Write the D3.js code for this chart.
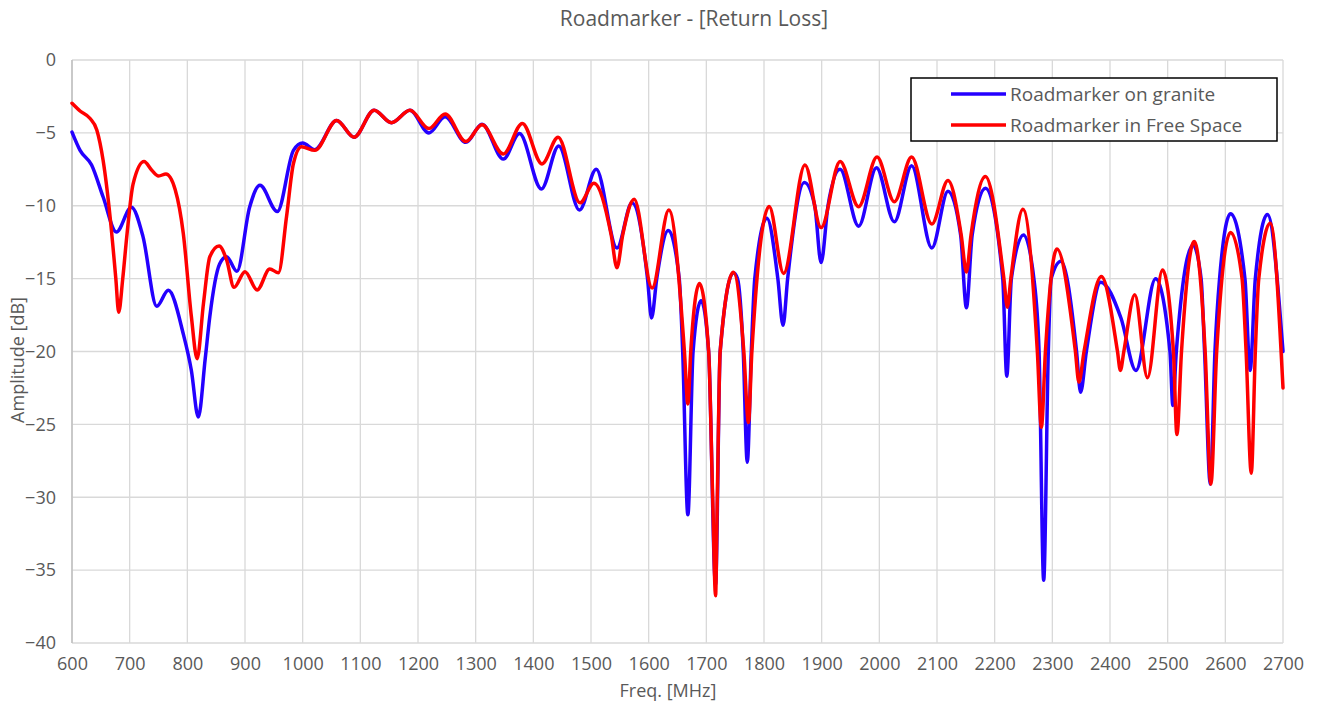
<!DOCTYPE html>
<html>
<head>
<meta charset="utf-8">
<script src="https://cdn.jsdelivr.net/npm/d3@7"></script>
<style>
body { margin: 0; background: #fff; }
text { font-family: "Open Sans", sans-serif; fill: #595959; }
</style>
</head>
<body>
<svg id="chart" width="1318" height="704"></svg>
<script>
// Axis ticks
var xTicks = [600, 700, 800, 900, 1000, 1100, 1200, 1300, 1400, 1500, 1600, 1700,
              1800, 1900, 2000, 2100, 2200, 2300, 2400, 2500, 2600, 2700];
var yTicks = [0, -5, -10, -15, -20, -25, -30, -35, -40];

// Roadmarker on granite
var graniteFreq = [600, 614, 634, 654, 677, 703, 723, 747, 767, 793, 807, 819, 831, 839, 856, 868, 886,
                   908, 926, 956, 984, 1000, 1021, 1059, 1089, 1124, 1154, 1186, 1219, 1247, 1283, 1311,
                   1348, 1376, 1414, 1444, 1480, 1509, 1545, 1571, 1598, 1605, 1614, 1634, 1653, 1659,
                   1668, 1677, 1691, 1704, 1716, 1724, 1747, 1754, 1764, 1771, 1778, 1784, 1805, 1824,
                   1833, 1841, 1870, 1888, 1899, 1911, 1932, 1964, 1995, 2026, 2056, 2091, 2119, 2141,
                   2151, 2161, 2184, 2214, 2221, 2229, 2250, 2268, 2277, 2285, 2293, 2298, 2315, 2342,
                   2349, 2359, 2384, 2419, 2445, 2479, 2504, 2509, 2515, 2544, 2558, 2564, 2574, 2582,
                   2590, 2609, 2634, 2643, 2652, 2673, 2700];
var graniteDb = [-4.95, -6.2, -7.2, -9.4, -11.8, -10.1, -12.1, -16.9, -15.8, -18.8, -21.3, -24.5, -20.5,
                 -17.6, -14.0, -13.5, -14.5, -10.1, -8.6, -10.4, -6.2, -5.7, -6.15, -4.15, -5.3, -3.45,
                 -4.3, -3.45, -5.0, -3.9, -5.65, -4.4, -6.8, -5.05, -8.85, -5.9, -10.3, -7.5, -12.9,
                 -9.8, -15, -17.7, -15, -11.7, -15, -20, -31.2, -20, -16.5, -20, -36, -20, -14.6, -15,
                 -20, -27.6, -20, -15, -10.85, -15, -18.2, -15, -8.4, -10, -13.9, -10, -7.5, -11.4,
                 -7.4, -11.1, -7.25, -12.9, -9.0, -12, -17.0, -12, -8.8, -15, -21.7, -15, -12.0, -15,
                 -20, -35.7, -20, -15, -13.8, -20, -22.8, -20, -15.25, -17.7, -21.3, -15.0, -20, -23.7,
                 -20, -12.7, -15, -20, -29.1, -20, -15, -10.55, -15, -21.3, -15, -10.6, -20];

// Roadmarker in Free Space
var freeFreq = [600, 614, 631, 643, 654, 666, 676, 681, 688, 695, 706, 725, 738, 750, 763, 779, 793, 807,
                817, 828, 839, 855, 868, 881, 900, 921, 943, 958, 972, 984, 998, 1021, 1059, 1089, 1124,
                1154, 1186, 1219, 1247, 1283, 1311, 1348, 1381, 1415, 1443, 1481, 1505, 1535, 1545,
                1555, 1575, 1606, 1635, 1662, 1668, 1673, 1688, 1704, 1711, 1716, 1719, 1724, 1747,
                1765, 1773, 1779, 1809, 1834, 1871, 1899, 1932, 1964, 1996, 2026, 2056, 2091, 2119,
                2142, 2151, 2159, 2184, 2216, 2222, 2228, 2249, 2274, 2281, 2288, 2308, 2340, 2346,
                2355, 2385, 2413, 2418, 2424, 2443, 2465, 2491, 2510, 2516, 2524, 2546, 2565, 2575,
                2585, 2609, 2629, 2636, 2645, 2652, 2658, 2678, 2700];
var freeDb = [-2.97, -3.5, -4.0, -4.8, -6.9, -10.75, -15, -17.3, -15, -12.1, -8.5, -6.97, -7.55, -7.96,
              -7.82, -8.9, -11.9, -17.6, -20.5, -16.7, -13.5, -12.76, -13.7, -15.6, -14.52, -15.78,
              -14.34, -14.6, -10.75, -7.1, -5.95, -6.2, -4.15, -5.3, -3.45, -4.3, -3.45, -4.7, -3.7,
              -5.6, -4.45, -6.45, -4.35, -7.13, -5.3, -9.8, -8.45, -12, -14.25, -12, -9.55, -15.65,
              -10.3, -20, -23.6, -20, -15.33, -20, -30, -36.76, -30, -20, -14.57, -20, -24.87, -20,
              -10.05, -14.64, -7.2, -11.5, -6.96, -10.06, -6.66, -9.72, -6.66, -11.26, -8.27, -12,
              -14.55, -12, -7.99, -15, -16.96, -15, -10.24, -20, -25.2, -20, -12.97, -20, -22.1, -20,
              -14.85, -20, -21.3, -20, -16.1, -21.8, -14.4, -20, -25.7, -20, -12.45, -20, -29.1, -20,
              -11.83, -15, -20, -28.35, -20, -15, -11.2, -22.5];

var legendNames = ["Roadmarker on granite", "Roadmarker in Free Space"];
var lineColors = ["#2400ff", "#ff0000"];

var width = 1318, height = 704;
var margin = {top: 60, right: 35, bottom: 61, left: 72};
var innerW = width - margin.left - margin.right;
var innerH = height - margin.top - margin.bottom;

var svg = d3.select("#chart");
var g = svg.append("g").attr("transform", "translate(" + margin.left + "," + margin.top + ")");

var x = d3.scaleLinear().domain([600, 2700]).range([0, innerW]);
var y = d3.scaleLinear().domain([-40, 0]).range([innerH, 0]);

// Gridlines
g.append("g").selectAll("line").data(yTicks).join("line")
    .attr("x1", 0).attr("x2", innerW)
    .attr("y1", d => y(d)).attr("y2", d => y(d))
    .attr("stroke", "#d9d9d9").attr("stroke-width", 1.3);
g.append("g").selectAll("line").data(xTicks).join("line")
    .attr("x1", d => x(d)).attr("x2", d => x(d))
    .attr("y1", 0).attr("y2", innerH)
    .attr("stroke", "#d9d9d9").attr("stroke-width", 1.3);
// left axis line
g.append("line").attr("x1", 0).attr("x2", 0).attr("y1", 0).attr("y2", innerH)
    .attr("stroke", "#bfbfbf").attr("stroke-width", 1.5);

// Axes (labels only)
var xAxis = g.append("g").attr("transform", "translate(0," + innerH + ")")
    .call(d3.axisBottom(x).tickValues(xTicks).tickSize(0).tickPadding(14).tickFormat(d3.format("d")));
var yAxis = g.append("g")
    .call(d3.axisLeft(y).tickValues(yTicks).tickSize(0).tickPadding(16).tickFormat(d3.format("d")));
[xAxis, yAxis].forEach(a => {
    a.select(".domain").remove();
    a.selectAll("text").style("font-size", "18px").style("font-family", "'Open Sans', sans-serif").attr("fill", "#595959");
});

// Lines
var line = d3.line().x(d => x(d[0])).y(d => y(d[1])).curve(d3.curveMonotoneX);
var series = [d3.zip(graniteFreq, graniteDb), d3.zip(freeFreq, freeDb)];
g.append("g").selectAll("path").data(series).join("path")
    .attr("d", line)
    .attr("fill", "none")
    .attr("stroke", (d, i) => lineColors[i])
    .attr("stroke-width", 3.5)
    .attr("stroke-linejoin", "round")
    .attr("stroke-linecap", "round");

// Title and axis titles
svg.append("text").attr("x", 694).attr("y", 26).attr("text-anchor", "middle")
    .style("font-size", "21px").text("Roadmarker - [Return Loss]");
svg.append("text").attr("x", 668).attr("y", 697).attr("text-anchor", "middle")
    .style("font-size", "18px").text("Freq. [MHz]");
svg.append("text").attr("transform", "translate(24,360) rotate(-90)").attr("text-anchor", "middle")
    .style("font-size", "18px").text("Amplitude [dB]");

// Legend
var legend = svg.append("g").attr("transform", "translate(911,78)");
legend.append("rect").attr("width", 366).attr("height", 63)
    .attr("fill", "#fff").attr("stroke", "#000").attr("stroke-width", 1.5);
var items = legend.selectAll(".item").data(legendNames).join("g")
    .attr("transform", (d, i) => "translate(0," + (16 + i * 31) + ")");
items.append("line").attr("x1", 40).attr("x2", 95)
    .attr("stroke", (d, i) => lineColors[i]).attr("stroke-width", 3.5);
items.append("text").attr("x", 99).attr("y", 6.5)
    .style("font-size", "19px").text(d => d);
</script>
</body>
</html>
